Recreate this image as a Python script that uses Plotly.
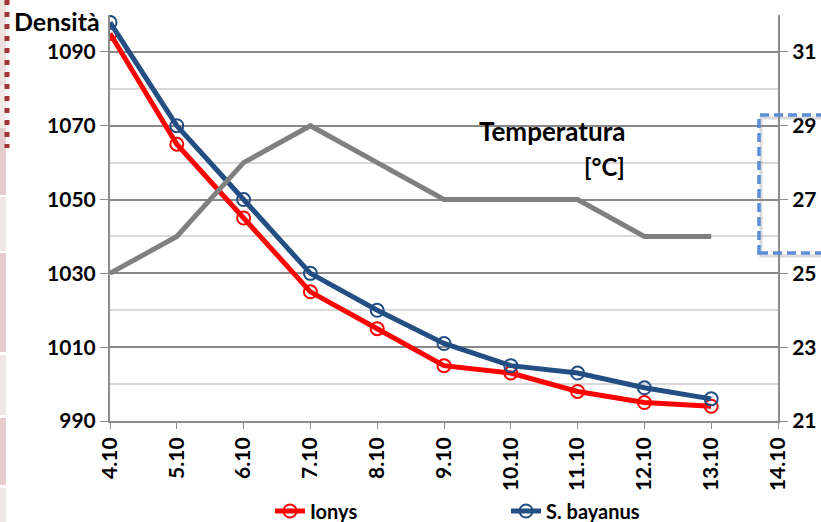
import plotly.graph_objects as go

# ---------------- data ----------------
tick_labels = ["4.10", "5.10", "6.10", "7.10", "8.10", "9.10", "10.10", "11.10", "12.10", "13.10", "14.10"]
dates = ["4.10", "5.10", "6.10", "7.10", "8.10", "9.10", "10.10", "11.10", "12.10", "13.10"]
ionys = [1095, 1065, 1045, 1025, 1015, 1005, 1003, 998, 995, 994]
bayanus = [1098, 1070, 1050, 1030, 1020, 1011, 1005, 1003, 999, 996]
temperatura = [25, 26, 28, 29, 28, 27, 27, 27, 26, 26]

# ---------------- layout helpers ----------------
W, H = 821, 522
L, R, T, B = 110, 778, 15, 421
def px(x):
    return (x - L) / (R - L)
def py(y):
    return (B - y) / (B - T)

xpos = [tick_labels.index(d) for d in dates]
FONT = "Lato"
RED = "#ff0000"
BLUE = "#234e83"
GREY = "#808080"
TICKSIZE = 21

fig = go.Figure()
fig.add_trace(go.Scatter(
    x=xpos, y=ionys, name="Ionys", mode="lines+markers",
    line=dict(color=RED, width=5),
    marker=dict(symbol="circle-open", size=13, color=RED, line=dict(width=2)),
))
fig.add_trace(go.Scatter(
    x=xpos, y=bayanus, name="S. bayanus", mode="lines+markers",
    line=dict(color=BLUE, width=5),
    marker=dict(symbol="circle-open", size=13, color=BLUE, line=dict(width=2)),
))
fig.add_trace(go.Scatter(
    x=xpos, y=temperatura, name="Temperatura", mode="lines",
    line=dict(color=GREY, width=5), yaxis="y2", showlegend=False,
))

axis_line = "#8c8c8c"
fig.update_layout(
    width=W, height=H,
    margin=dict(l=L, r=W - R, t=T, b=H - B, pad=0, autoexpand=False),
    paper_bgcolor="white", plot_bgcolor="white",
    font=dict(family=FONT, size=18, color="black"),
    showlegend=True,
    legend=dict(
        orientation="h", x=px(270), xanchor="left",
        yref="container", y=1 - 511 / H, yanchor="middle",
        font=dict(family=FONT, size=20, color="black", weight="bold"),
        entrywidth=191, bgcolor="rgba(0,0,0,0)",
    ),
    xaxis=dict(
        range=[0, len(tick_labels) - 1], tickmode="array",
        tickvals=list(range(len(tick_labels))), ticktext=tick_labels,
        tickangle=-90, ticks="outside", ticklen=6, tickcolor=axis_line,
        showline=True, linecolor=axis_line, linewidth=2, showgrid=False,
        zeroline=False, automargin=False,
        tickfont=dict(family=FONT, size=TICKSIZE, weight="bold"),
    ),
    yaxis=dict(
        range=[990, 1100], tick0=990, dtick=20, ticks="outside", ticklen=8,
        tickcolor=axis_line, showline=True, linecolor=axis_line, linewidth=2,
        showgrid=True, gridcolor="#898989", gridwidth=2, zeroline=False,
        automargin=False,
        minor=dict(tick0=1000, dtick=20, showgrid=True, gridcolor="#d9d9d9", gridwidth=2, ticks=""),
        tickfont=dict(family=FONT, size=TICKSIZE, weight="bold"),
    ),
    yaxis2=dict(
        range=[21, 32], tick0=21, dtick=2, overlaying="y", side="right",
        ticks="outside", ticklen=8, tickcolor=axis_line, showline=True,
        linecolor=axis_line, linewidth=2, showgrid=False, zeroline=False,
        automargin=False,
        tickfont=dict(family=FONT, size=TICKSIZE, weight="bold"),
    ),
)

# texts
fig.add_annotation(text="Densità", xref="paper", yref="paper", x=px(12), y=py(21),
                   xanchor="left", yanchor="middle", showarrow=False,
                   font=dict(family=FONT, size=25, weight="bold"))
fig.add_annotation(text="Temperatura", xref="paper", yref="paper", x=px(627), y=py(131),
                   xanchor="right", yanchor="middle", showarrow=False,
                   font=dict(family=FONT, size=26, weight="bold"))
fig.add_annotation(text="[°C]", xref="paper", yref="paper", x=px(627), y=py(166),
                   xanchor="right", yanchor="middle", showarrow=False,
                   font=dict(family=FONT, size=24, weight="bold"))

# decorations: left pink strip
strip = [(0, 85, "#efe0e0"), (85, 128, "#f3eaea"), (128, 195, "#e6cdcd"), (197, 251, "#f2e7e7"),
         (253, 352, "#e6cccc"), (355, 415, "#f2e7e7"), (418, 485, "#e6cccc"), (488, 522, "#f2e7e7")]
for y0, y1, c in strip:
    fig.add_shape(type="rect", xref="paper", yref="paper", x0=px(0), x1=px(6), y0=py(y1), y1=py(y0),
                  line=dict(width=0), fillcolor=c, layer="below")
fig.add_shape(type="line", xref="paper", yref="paper", x0=px(7), x1=px(7), y0=py(0), y1=py(148),
              line=dict(color="#9e3636", width=5, dash="5px,7px"))

# dashed blue box with soft shadow
fig.add_shape(type="rect", xref="paper", yref="paper", x0=px(761), x1=px(835), y0=py(256), y1=py(118),
              line=dict(color="rgba(150,150,150,0.35)", width=3), fillcolor="rgba(0,0,0,0)")
fig.add_shape(type="rect", xref="paper", yref="paper", x0=px(759), x1=px(835), y0=py(253), y1=py(115),
              line=dict(color="#5b8ed6", width=3.5, dash="9px,5px"), fillcolor="rgba(0,0,0,0)")

fig.write_html("out.html")
